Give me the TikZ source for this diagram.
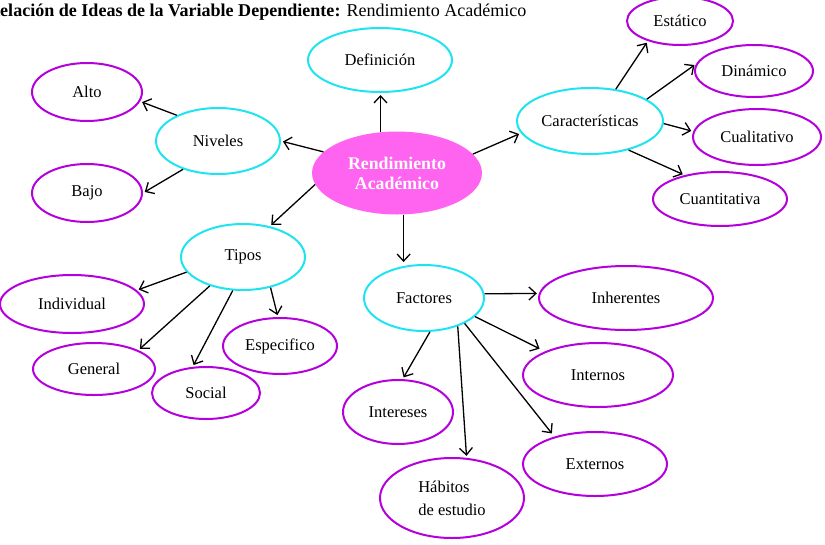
\documentclass[tikz,border=0pt]{standalone}
\usepackage{fontspec}
\setmainfont{Liberation Serif}
\usetikzlibrary{shapes.geometric,arrows.meta}
\definecolor{ideacyan}{RGB}{30,228,240}
\definecolor{leafpurple}{RGB}{180,0,220}
\definecolor{mainpink}{RGB}{255,100,240}
\tikzset{
  idea/.style={ellipse, draw=ideacyan, line width=2pt, inner sep=0pt, font=\fontsize{16.5}{23}\selectfont},
  leaf/.style={ellipse, draw=leafpurple, line width=2pt, inner sep=0pt, font=\fontsize{16.5}{23}\selectfont},
  arr/.style={->, line width=1.3pt, shorten >=2pt}
}
\begin{document}
\begin{tikzpicture}[x=1pt,y=-1pt,>={Straight Barb[length=7pt,width=13pt]}]
  \useasboundingbox (0,0) rectangle (825,544);
  \clip (0,0) rectangle (825,544);
  \node[anchor=base west, inner sep=0pt, font=\fontsize{18.05}{20}\selectfont] (title) at (-13,16)
    {\textbf{Relación de Ideas de la Variable Dependiente:} Rendimiento Académico};
  \node[ellipse, fill=mainpink, inner sep=0pt, minimum width=170pt, minimum height=83pt,
    align=center, text=white, font=\bfseries\fontsize{17.8}{20}\selectfont] (main) at (397,173) {Rendimiento\\Académico};
  \node[idea, minimum width=144pt, minimum height=64pt] (def) at (380,60) {Definición};
  \node[idea, minimum width=124pt, minimum height=66pt] (niv) at (218,141) {Niveles};
  \node[idea, minimum width=146pt, minimum height=66pt] (car) at (590,121) {Características};
  \node[idea, minimum width=124pt, minimum height=66pt] (tipos) at (243,257) {Tipos};
  \node[idea, minimum width=120pt, minimum height=66pt] (fac) at (424,298) {Factores};
  \node[leaf, minimum width=110pt, minimum height=58pt] (alto) at (87,92) {Alto};
  \node[leaf, minimum width=110pt, minimum height=58pt] (bajo) at (87,193) {Bajo};
  \node[leaf, minimum width=106pt, minimum height=48pt] (est) at (680,21) {Estático};
  \node[leaf, minimum width=118pt, minimum height=52pt] (din) at (754,71) {Dinámico};
  \node[leaf, minimum width=128pt, minimum height=56pt] (cual) at (757,137) {Cualitativo};
  \node[leaf, minimum width=134pt, minimum height=54pt] (cuan) at (720,199) {Cuantitativa};
  \node[leaf, minimum width=144pt, minimum height=58pt] (ind) at (72,304) {Individual};
  \node[leaf, minimum width=122pt, minimum height=52pt] (gen) at (94,369) {General};
  \node[leaf, minimum width=108pt, minimum height=52pt] (soc) at (206,393) {Social};
  \node[leaf, minimum width=114pt, minimum height=56pt] (esp) at (280,346) {Especifico};
  \node[leaf, minimum width=174pt, minimum height=64pt] (inh) at (626,298) {Inherentes};
  \node[leaf, minimum width=150pt, minimum height=64pt] (intn) at (598,375) {Internos};
  \node[leaf, minimum width=110pt, minimum height=64pt] (intr) at (398,412) {Intereses};
  \node[leaf, minimum width=144pt, minimum height=64pt] (ext) at (595,464) {Externos};
  \node[leaf, minimum width=144pt, minimum height=80pt, align=left] (hab) at (452,498) {Hábitos\\de estudio};
  \draw[arr] (main.112) -- (main.112 |- def.south);
  \draw[arr] (main.164) -- (niv.0);
  \draw[arr] (niv.148) -- (alto.-10);
  \draw[arr] (niv.219) -- (bajo.0);
  \draw[arr] (main.188) -- (tipos.49);
  \draw[arr] (main.14) -- (car.190);
  \draw[arr] (car.51) -- (est.212);
  \draw[arr] (car.21) -- (din.173);
  \draw[arr] (car.-2) -- (cual.175);
  \draw[arr] (car.-37) -- (cuan.146);
  \draw[arr] (main.-81) -- (main.-81 |- fac.north);
  \draw[arr] (tipos.195) -- (ind.12);
  \draw[arr] (tipos.221) -- (gen.23);
  \draw[arr] (tipos.253) -- (soc.117);
  \draw[arr] (tipos.-48) -- (esp.94);
  \draw[arr] (fac.4) -- (inh.177);
  \draw[arr, shorten >=6pt] (fac.-20) -- (intn.156);
  \draw[arr] (fac.-80) -- (intr.82);
  \draw[arr] (fac.-40) -- (hab.70);
  \draw[arr, shorten >=4pt] (fac.-32) -- (ext.146);
\end{tikzpicture}
\end{document}
